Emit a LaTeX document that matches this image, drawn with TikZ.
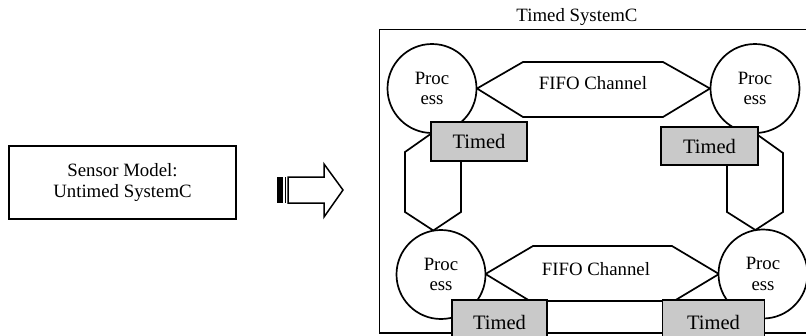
\documentclass[tikz,border=0pt]{standalone}
\usepackage{fontspec}
\setmainfont{Liberation Serif}
\begin{document}
\begin{tikzpicture}[x=1pt,y=-1pt,line width=1.7pt,line join=miter,
  lbl/.style={font=\fontsize{18.8}{20.5}\selectfont,align=center,inner sep=0pt},
  proc/.style={circle,draw,fill=white,minimum size=89pt,inner sep=0pt,lbl},
  timed/.style={rectangle,draw,fill=black!21,inner sep=0pt,font=\fontsize{20.5}{22}\selectfont},
  chan/.style={draw,fill=white},
  frame/.style={draw,line width=1.7pt}]
\useasboundingbox (0,0) rectangle (806,335);
% left box
\node[draw,lbl,minimum width=227pt,minimum height=73pt] (sensor) at (122.5,182.5)
  {Sensor Model:\\Untimed SystemC};
% striped arrow
\fill (277,177) rectangle (283,203);
\draw[line width=1.3pt] (285.5,177) -- (285.5,203);
\draw[line width=1.5pt] (288,177) -- (324,177) -- (324,164) -- (343,190) -- (324,217) -- (324,203) -- (288,203) -- cycle;
\coordinate (arrtip) at (343,190);
% outer frame
\draw[frame] (810,29.5) -- (379.5,29.5) -- (379.5,333) -- (810,333);
\node[lbl] (title) at (577,17) {Timed SystemC};
% processes (positions)
\coordinate (c1) at (432,88.5);
\coordinate (c2) at (755,88.5);
\coordinate (c3) at (441,274.5);
\coordinate (c4) at (763,274);
% channels drawn first
\path[chan] (477,88.5) -- (523,62) -- (663,62) -- (710,88.5) -- (663,117) -- (523,117) -- cycle;
\path[chan] (432,133) -- (461,152) -- (461,212) -- (433.3,230.5) -- (405,212) -- (405,152) -- cycle;
\path[chan] (755,133) -- (783,153) -- (783,212) -- (755.4,230) -- (727,212) -- (727,153) -- cycle;
\path[chan] (485.5,274) -- (533,246) -- (672,246) -- (719,274) -- (674,301) -- (530,301) -- cycle;
\node[lbl] (fifo1) at (593,83) {FIFO Channel};
\node[lbl] (fifo2) at (596,269) {FIFO Channel};
% processes
\node[proc] (p1) at (c1) {Proc\\ess};
\node[proc] (p2) at (c2) {Proc\\ess};
\node[proc] (p3) at (c3) {Proc\\ess};
\node[proc] (p4) at (c4) {Proc\\ess};
% timed boxes
\node[timed,minimum width=96pt,minimum height=39pt] (t1) at (479,141.5) {Timed};
\node[timed,minimum width=97pt,minimum height=38pt] (t2) at (709.5,146) {Timed};
\node[timed,minimum width=95pt,minimum height=44pt] (t3) at (499.5,322) {};
\node[timed,minimum width=102pt,minimum height=44pt] (t4) at (713.5,322) {};
\node[font=\fontsize{20.5}{22}\selectfont,inner sep=0pt] (t3l) at (499.5,322) {Timed};
\node[font=\fontsize{20.5}{22}\selectfont,inner sep=0pt] (t4l) at (713.5,322) {Timed};
\end{tikzpicture}
\end{document}
